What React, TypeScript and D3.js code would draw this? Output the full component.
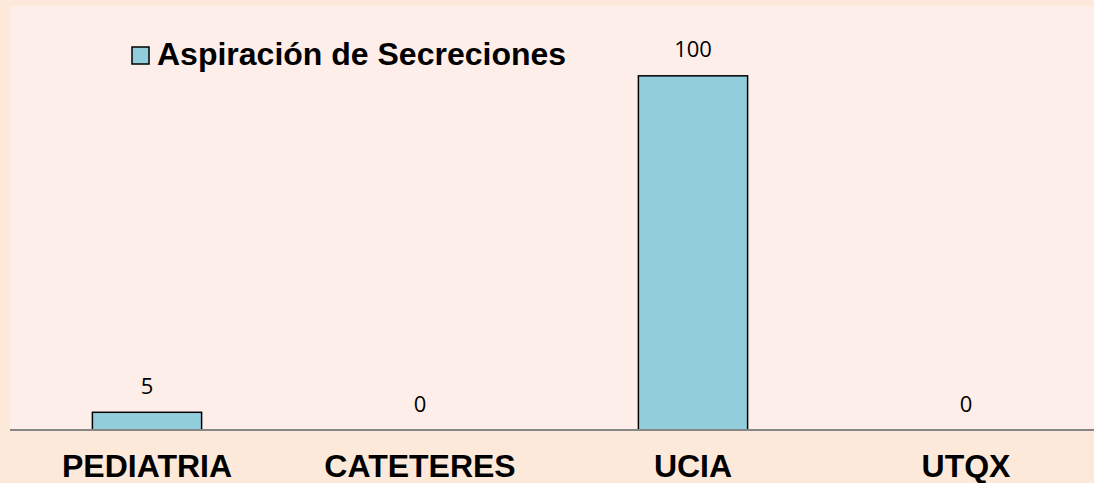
import React from "react";
import * as d3 from "d3";

const categories = ["PEDIATRIA", "CATETERES", "UCIA", "UTQX"];
const values = [5, 0, 100, 0];
const seriesName = "Aspiración de Secreciones";

const W = 1094;
const H = 483;

export default function App() {
  const x = d3.scaleBand<string>().domain(categories).range([10.5, 1102.5]).paddingInner(0.6).paddingOuter(0.3);
  const y = d3.scaleLinear().domain([0, 120]).range([430, 5]);
  const bw = x.bandwidth();
  return (
    <svg width={W} height={H} style={{ position: "absolute", left: 0, top: 0 }}>
      <rect x={0} y={0} width={W} height={H} fill="#FDE9D9" />
      <rect x={10} y={6} width={W - 10} height={424} fill="#FDEEEA" />
      {categories.map((c, i) => {
        const v = values[i];
        const x0 = x(c)!;
        return (
          <g key={c}>
            {v > 0 && (
              <rect x={x0} y={y(v)} width={bw} height={y(0) - y(v)} fill="#92CDDC" stroke="#000" strokeWidth={1.5} />
            )}
            <text x={x0 + bw / 2} y={y(v) - 18.5} textAnchor="middle" fontFamily="'Open Sans', sans-serif" fontSize={22} fill="#000">
              {v}
            </text>
            <text x={x0 + bw / 2} y={477} textAnchor="middle" fontFamily="'Liberation Sans', Arial, sans-serif" fontWeight="bold" fontSize={32} fill="#000">
              {c}
            </text>
          </g>
        );
      })}
      <line x1={10} x2={W} y1={y(0)} y2={y(0)} stroke="#868686" strokeWidth={2} />
      <rect x={132} y={47} width={17} height={17} fill="#92CDDC" stroke="#000" strokeWidth={1.5} />
      <text x={157} y={65} fontFamily="'Liberation Sans', Arial, sans-serif" fontWeight="bold" fontSize={32} fill="#000">
        {seriesName}
      </text>
    </svg>
  );
}
